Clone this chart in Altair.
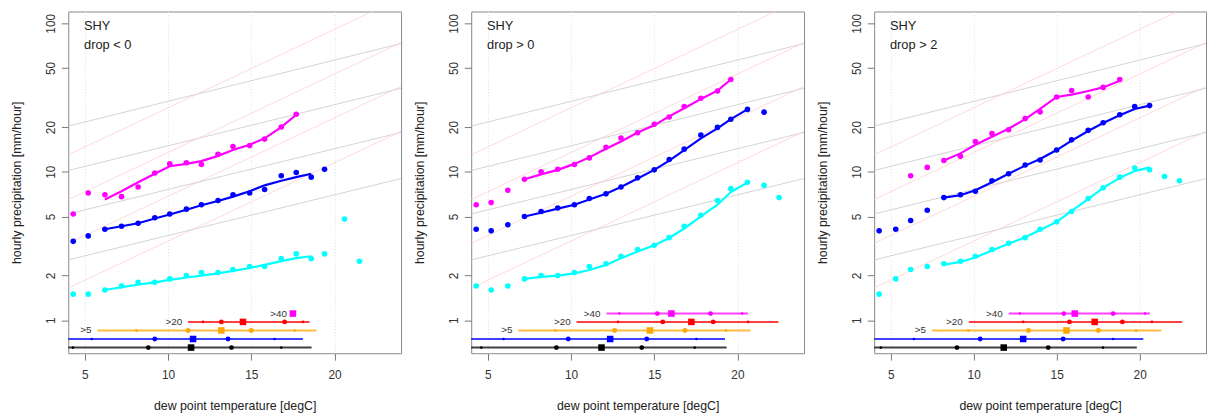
import altair as alt
import pandas as pd

FONT = "Liberation Sans"

# ---------------- axes ----------------
X_DOMAIN = [4, 24]
Y_DOMAIN = [0.6, 120]
x_ticks = [5, 10, 15, 20]
y_ticks = [1, 2, 5, 10, 20, 50, 100]
station = "SHY"
panel_titles = ["drop < 0", "drop > 0", "drop > 2"]

# ---------------- reference scaling lines (values at x=4 and x=24) ----------------
ref_x = [4, 24]
grey_left = [20.3, 10.2, 5.2, 2.55]
grey_right = [73.0, 36.5, 18.4, 9.0]
pink_left = [13.0, 6.5, 3.3, 1.65]
pink_right = [148.0, 74.0, 37.5, 18.7]

# ---------------- panel 1 : drop < 0 ----------------
x_p1 = [4.3, 5.2, 6.2, 7.2, 8.2, 9.2, 10.1, 11.1, 12.0, 13.0, 13.9, 14.9, 15.8, 16.8, 17.7, 18.6, 19.4, 20.6, 21.5]
mag_p1 = [5.2, 7.2, 7.0, 6.8, 7.9, 9.8, 11.3, 11.5, 11.2, 13.1, 14.8, 15.0, 16.6, 20.0, 24.4, None, None, None, None]
blue_p1 = [3.4, 3.7, 4.1, 4.3, 4.5, 4.9, 5.2, 5.6, 6.0, 6.4, 7.0, 7.2, 7.6, 9.4, 9.9, 9.2, 10.4, None, None]
cyan_p1 = [1.5, 1.5, 1.6, 1.7, 1.8, 1.8, 1.9, 2.0, 2.1, 2.1, 2.2, 2.3, 2.3, 2.6, 2.8, 2.6, 2.8, 4.8, 2.5]
magfit_p1 = [None, None, 6.5, 7.4, 8.5, 9.7, 10.9, 11.3, 11.8, 12.8, 14.0, 15.2, 16.8, 20.0, 24.2, None, None, None, None]
bluefit_p1 = [None, None, 4.1, 4.3, 4.5, 4.85, 5.15, 5.55, 5.95, 6.35, 6.8, 7.4, 8.1, 8.7, 9.2, 9.7, None, None, None]
cyanfit_p1 = [None, None, 1.60, 1.67, 1.74, 1.80, 1.87, 1.94, 2.00, 2.07, 2.15, 2.25, 2.36, 2.50, 2.62, 2.70, None, None, None]

# ---------------- panel 2 : drop > 0 ----------------
x_p2 = [4.3, 5.2, 6.2, 7.2, 8.2, 9.2, 10.2, 11.1, 12.1, 13.0, 14.0, 15.0, 15.9, 16.8, 17.8, 18.8, 19.6, 20.6, 21.6, 22.5]
mag_p2 = [6.0, 6.2, 7.5, 8.9, 10.0, 10.4, 11.2, 12.4, 14.6, 16.9, 18.3, 20.9, 23.4, 27.5, 31.3, 35.0, 41.8, None, None, None]
blue_p2 = [4.1, 4.0, 4.4, 5.0, 5.4, 5.7, 6.0, 6.6, 7.1, 7.9, 9.1, 10.3, 12.1, 14.2, 17.7, 19.9, 22.6, 26.3, 25.2, None]
cyan_p2 = [1.7, 1.6, 1.7, 1.9, 2.0, 2.0, 2.1, 2.3, 2.4, 2.7, 3.0, 3.2, 3.6, 4.3, 5.1, 6.4, 7.7, 8.5, 8.1, 6.7]
magfit_p2 = [None, None, None, 8.9, 9.6, 10.3, 11.3, 12.5, 14.3, 16.0, 18.4, 20.6, 23.6, 26.8, 30.9, 35.2, 41.8, None, None, None]
bluefit_p2 = [None, None, None, 5.0, 5.3, 5.65, 6.0, 6.5, 7.1, 7.9, 9.0, 10.3, 11.9, 14.0, 16.8, 19.6, 22.6, 26.3, None, None]
cyanfit_p2 = [None, None, None, 1.90, 1.96, 2.00, 2.07, 2.18, 2.36, 2.62, 2.90, 3.20, 3.58, 4.15, 5.0, 6.0, 7.3, 8.47, None, None]

# ---------------- panel 3 : drop > 2 ----------------
x_p3 = [4.3, 5.3, 6.2, 7.2, 8.2, 9.2, 10.1, 11.1, 12.1, 13.1, 14.0, 15.0, 15.9, 16.9, 17.8, 18.8, 19.7, 20.6, 21.5, 22.4]
mag_p3 = [None, None, 9.4, 10.7, 11.9, 12.7, 16.0, 18.1, 19.2, 22.8, 25.3, 31.9, 35.3, 31.9, 37.0, 41.8, None, None, None, None]
blue_p3 = [4.0, 4.1, 4.7, 5.5, 6.7, 7.0, 7.4, 8.7, 9.7, 11.1, 12.0, 14.0, 16.4, 19.0, 21.4, 24.2, 27.5, 27.9, None, None]
cyan_p3 = [1.5, 1.9, 2.2, 2.3, 2.4, 2.5, 2.7, 3.0, 3.3, 3.6, 4.1, 4.6, 5.4, 6.6, 7.8, 9.2, 10.6, 10.3, 9.3, 8.7]
magfit_p3 = [None, None, None, None, 11.9, 13.3, 15.2, 17.2, 19.5, 22.6, 26.5, 31.9, 33.1, 35.0, 37.0, 41.0, None, None, None, None]
bluefit_p3 = [None, None, None, None, 6.7, 6.95, 7.5, 8.5, 9.7, 11.0, 12.2, 14.0, 16.2, 18.8, 21.3, 24.0, 26.5, 27.9, None, None]
cyanfit_p3 = [None, None, None, None, 2.37, 2.47, 2.65, 2.95, 3.28, 3.62, 4.05, 4.6, 5.45, 6.55, 7.8, 9.1, 10.1, 10.7, None, None]

# ---------------- percentile rows (black, blue, >5, >20, >40) ----------------
row_colors = ["#000000", "#0000FF", "#FFA500", "#FF0000", "#FF00FF"]
row_labels = ["", "", ">5", ">20", ">40"]
row_y = [0.655, 0.748, 0.854, 0.975, 1.11]

rows_p1 = {
    "lo":  [3.0, 3.0, 5.76, 11.2, None],
    "q05": [4.28, 5.41, 8.1, 12.1, None],
    "q25": [8.81, 9.2, 11.2, 13.2, None],
    "med": [11.38, 11.5, 13.2, 14.5, 17.5],
    "q75": [13.81, 13.6, 15.0, 17.0, None],
    "q95": [16.8, 16.4, 17.6, 18.1, None],
    "hi":  [18.62, 18.1, 18.92, 18.5, None],
}
rows_p2 = {
    "lo":  [3.0, 3.0, 6.83, 10.33, 12.13],
    "q05": [4.61, 5.94, 9.06, 12.82, 12.9],
    "q25": [9.12, 9.83, 12.62, 15.51, 15.18],
    "med": [11.83, 12.35, 14.74, 17.23, 16.03],
    "q75": [14.25, 14.55, 16.84, 18.54, 18.38],
    "q95": [17.43, 17.53, 19.31, 20.64, 20.28],
    "hi":  [19.35, 19.25, 20.78, 22.46, 20.64],
}
rows_p3 = {
    "lo":  [3.0, 3.0, 7.48, 9.7, 12.11],
    "q05": [4.4, 6.39, 9.68, 12.98, 12.78],
    "q25": [8.99, 10.39, 13.3, 15.77, 15.43],
    "med": [11.81, 12.98, 15.59, 17.29, 16.09],
    "q75": [14.49, 15.39, 17.51, 18.96, 18.4],
    "q95": [17.79, 18.4, 19.79, 20.74, 20.32],
    "hi":  [19.83, 20.22, 21.31, 22.56, 20.62],
}

SERIES_COLORS = ["#FF00FF", "#0000FF", "#00FFFF"]

xs = alt.Scale(domain=X_DOMAIN, nice=False, zero=False)
ys = alt.Scale(type="log", domain=Y_DOMAIN, nice=False)

xaxis = alt.Axis(values=x_ticks, title="dew point temperature [degC]", format="d",
                 grid=True, gridDash=[1, 2], gridColor="#e2e2e2", gridWidth=1,
                 domain=False, tickSize=7, tickColor="#777", tickWidth=1,
                 labelFontSize=12, labelPadding=10, labelColor="#333", labelFont=FONT,
                 titleFontSize=12.5, titlePadding=19, titleColor="#222", titleFont=FONT,
                 titleFontWeight="normal")
yaxis = alt.Axis(values=y_ticks, title="hourly precipitation [mm/hour]", format="~g",
                 grid=False, domain=False, tickSize=7, tickColor="#777", tickWidth=1,
                 labelAngle=270, labelAlign="center", labelBaseline="bottom",
                 labelFontSize=12, labelPadding=4, labelColor="#333", labelFont=FONT,
                 titleFontSize=12.5, titlePadding=21, titleColor="#222", titleFont=FONT,
                 titleFontWeight="normal")


def X(f):
    return alt.X(f, type="quantitative", scale=xs, axis=xaxis)


def Y(f):
    return alt.Y(f, type="quantitative", scale=ys, axis=yaxis)


COLOR = alt.Color("c:N", scale=None)


def make_panel(title, x, series, fits, rows):
    # reference lines
    ref = []
    for l, r in zip(grey_left, grey_right):
        ref.append({"x0": ref_x[0], "x1": ref_x[1], "y0": l, "y1": r, "c": "#C9C9C9"})
    for l, r in zip(pink_left, pink_right):
        ref.append({"x0": ref_x[0], "x1": ref_x[1], "y0": l, "y1": r, "c": "#FFCFCF"})
    ref_df = pd.DataFrame(ref)

    pts, fit = [], []
    for col, vals, fv in zip(SERIES_COLORS, series, fits):
        for xv, v in zip(x, vals):
            if v is not None:
                pts.append({"x": xv, "y": v, "c": col})
        for xv, v in zip(x, fv):
            if v is not None:
                fit.append({"x": xv, "y": v, "c": col})
    pts_df = pd.DataFrame(pts)
    fit_df = pd.DataFrame(fit)

    seg, small, med, sq, lab = [], [], [], [], []
    for k in range(len(row_colors)):
        c = row_colors[k]
        yv = row_y[k]
        if rows["lo"][k] is not None:
            seg.append({"x0": rows["lo"][k], "x1": rows["hi"][k], "y": yv, "c": c})
            small.append({"x": rows["q05"][k], "y": yv, "c": c})
            small.append({"x": rows["q95"][k], "y": yv, "c": c})
            med.append({"x": rows["q25"][k], "y": yv, "c": c})
            med.append({"x": rows["q75"][k], "y": yv, "c": c})
        sq.append({"x": rows["med"][k], "y": yv, "c": c})
        if row_labels[k]:
            lx = rows["lo"][k] if rows["lo"][k] is not None else rows["med"][k]
            lab.append({"x": lx, "y": yv, "t": row_labels[k]})

    seg_df, small_df, med_df = pd.DataFrame(seg), pd.DataFrame(small), pd.DataFrame(med)
    sq_df, lab_df = pd.DataFrame(sq), pd.DataFrame(lab)

    ref_layer = alt.Chart(ref_df).mark_rule(strokeWidth=0.8, clip=True).encode(
        x=X("x0"), x2="x1", y=Y("y0"), y2="y1", color=COLOR)
    fit_layer = alt.Chart(fit_df).mark_line(strokeWidth=2.2, clip=True).encode(
        x=X("x"), y=Y("y"), color=COLOR, detail="c:N")
    pt_layer = alt.Chart(pts_df).mark_circle(size=32, opacity=1).encode(
        x=X("x"), y=Y("y"), color=COLOR)
    seg_layer = alt.Chart(seg_df).mark_rule(strokeWidth=2, opacity=0.75, clip=True).encode(
        x=X("x0"), x2="x1", y=Y("y"), color=COLOR)
    small_layer = alt.Chart(small_df).mark_circle(size=7, opacity=1).encode(
        x=X("x"), y=Y("y"), color=COLOR)
    med_layer = alt.Chart(med_df).mark_circle(size=24, opacity=1).encode(
        x=X("x"), y=Y("y"), color=COLOR)
    sq_layer = alt.Chart(sq_df).mark_square(size=44, opacity=1).encode(
        x=X("x"), y=Y("y"), color=COLOR)
    lab_layer = alt.Chart(lab_df).mark_text(align="right", baseline="middle", dx=-6,
                                            fontSize=10, font=FONT, color="#333").encode(
        x=X("x"), y=Y("y"), text="t:N")
    ttl_df = pd.DataFrame({"t": [station, title], "py": [15, 34]})
    ttl_layer = alt.Chart(ttl_df).mark_text(align="left", baseline="middle", fontSize=13,
                                            font=FONT, color="#222").encode(
        x=alt.value(16), y=alt.Y("py:Q", scale=None), text="t:N")

    return alt.layer(ref_layer, fit_layer, pt_layer, seg_layer, small_layer, med_layer,
                     sq_layer, lab_layer, ttl_layer).properties(width=337, height=346)


p1 = make_panel(panel_titles[0], x_p1, [mag_p1, blue_p1, cyan_p1],
                [magfit_p1, bluefit_p1, cyanfit_p1], rows_p1)
p2 = make_panel(panel_titles[1], x_p2, [mag_p2, blue_p2, cyan_p2],
                [magfit_p2, bluefit_p2, cyanfit_p2], rows_p2)
p3 = make_panel(panel_titles[2], x_p3, [mag_p3, blue_p3, cyan_p3],
                [magfit_p3, bluefit_p3, cyanfit_p3], rows_p3).properties(width=336)

chart = alt.hconcat(p1, p2, p3, spacing=11).properties(
    padding={"left": 2, "top": 0, "right": 0, "bottom": 0},
    background="white",
).configure_view(stroke="#888", strokeWidth=1)

chart.save("out.html", embed_options={"renderer": "svg", "actions": False})
